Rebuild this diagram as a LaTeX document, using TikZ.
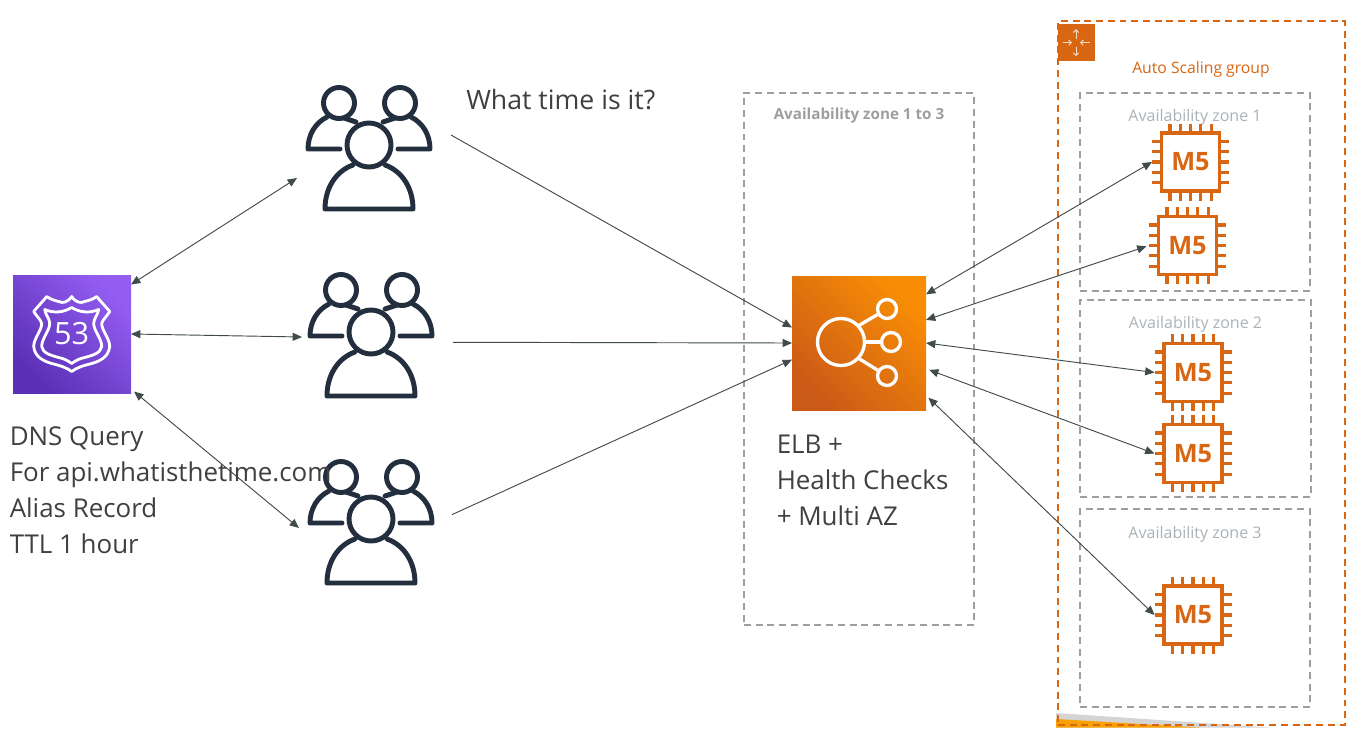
\documentclass[tikz,border=0pt]{standalone}
\usepackage{fontspec}
\setmainfont{Open Sans}
\usetikzlibrary{arrows.meta}
\definecolor{awsorange}{HTML}{D86613}
\definecolor{navy}{HTML}{232F3E}
\definecolor{zonegray}{HTML}{9E9E9E}
\definecolor{zonetext}{HTML}{AAB2B8}
\definecolor{arrowgray}{HTML}{414B4B}
\definecolor{bodytext}{HTML}{404040}
\definecolor{rlow}{HTML}{5A30B5}
\definecolor{rhigh}{HTML}{945DF2}
\definecolor{elow}{HTML}{CC5A17}
\definecolor{ehigh}{HTML}{F88E05}
\definecolor{wedgegray}{HTML}{D4D4D4}
\definecolor{wedgeorange}{HTML}{F8A100}
\definecolor{iconarrow}{HTML}{F8DCC6}
\tikzset{
  x=0.75pt,y=-0.75pt,
  pxbox/.style 2 args={minimum width=#1*0.75pt,minimum height=#2*0.75pt,inner sep=0pt,outer sep=0pt},
  zonebox/.style={draw=zonegray,line width=1.3pt,dash pattern=on 5.2pt off 3.6pt},
  asgbox/.style={draw=awsorange,line width=1.5pt,dash pattern=on 5.2pt off 3.6pt},
  zonelabel/.style={text=zonetext,inner sep=0pt,font=\fontsize{12}{14}\selectfont},
  link/.style={draw=arrowgray,line width=0.7pt},
  onearrow/.style={link,-{Triangle[length=7pt,width=6pt]}},
  twoarrow/.style={link,{Triangle[length=7pt,width=6pt]}-{Triangle[length=7pt,width=6pt]}},
  bodylabel/.style={text=bodytext,align=left,inner sep=0pt,font=\fontsize{19.45}{27}\selectfont},
  peopleline/.style={draw=navy,line width=3.7pt,line cap=round,line join=round},
  chipline/.style={draw=awsorange,line width=2.3pt},
  whiteline/.style={draw=white,line width=2.5pt},
  shieldline/.style={draw=white,line width=2.1pt,line join=round},
  pics/people/.style={code={
    \draw[peopleline] (-44,59) -- (44,59) (-44,59) .. controls (-44,38) and (-33,21) .. (-16,15)
       (44,59) .. controls (44,38) and (33,21) .. (16,15);
    \draw[peopleline] (0,-5) circle[radius=22];
    \draw[peopleline] (-30,-47) circle[radius=15.5];
    \draw[peopleline] (31,-47) circle[radius=15.5];
    \draw[peopleline] (-29,-1) -- (-61,-1) .. controls (-61,-15) and (-54,-27) .. (-42,-33) (-25,-32) -- (-13,-28);
    \draw[peopleline] (29,-1) -- (61,-1) .. controls (61,-15) and (54,-27) .. (42,-33) (26,-32) -- (14,-28);
  }},
  pics/chip/.style={code={
    \draw[chipline] (-29,-29) rectangle (29,29);
    \foreach \d in {-20.6,-10.3,0,10.3,20.6}{
      \draw[awsorange,line width=2.4pt] (\d,-29) -- (\d,-38.5) (\d,29) -- (\d,38.5) (-29,\d) -- (-38.5,\d) (29,\d) -- (38.5,\d);
    }
  }}
}
\newcommand{\chipat}[3]{%
  \pic at (#2,#3) {chip};
  \node[pxbox={77}{77},text=awsorange,font=\fontsize{19}{21}\bfseries\selectfont] (#1) at (#2,#3) {M5};
}
\begin{document}
\begin{tikzpicture}
\useasboundingbox (0,0) rectangle (1366,742);
% stray wedges at the foot of the group
\fill[wedgegray] (1056,713) -- (1270,727.5) -- (1056,727.5) -- cycle;
\fill[wedgeorange] (1056,719) -- (1200,727.5) -- (1056,727.5) -- cycle;

% group and zones
\node[pxbox={286.5}{704},asgbox] (asg) at (1201.25,373) {};
\node[pxbox={37}{37.5},fill=awsorange] (asgicon) at (1076,42.7) {};
\begin{scope}[draw=iconarrow,line width=0.7pt,-{Straight Barb[length=2pt,width=4pt]}]
  \draw (asgicon.center) ++(0,-4) -- ++(0,-9.5);
  \draw (asgicon.center) ++(0,4) -- ++(0,9.5);
  \draw (asgicon.center) ++(-13.5,0) -- ++(9.5,0);
  \draw (asgicon.center) ++(13.5,0) -- ++(-9.5,0);
\end{scope}
\node[text=awsorange,inner sep=0pt,font=\fontsize{11.8}{14}\selectfont] (asglabel) at (1201,69) {Auto Scaling group};

\node[pxbox={230}{532},zonebox] (azall) at (859,359) {};
\node[pxbox={230}{198},zonebox] (az1) at (1195,192) {};
\node[pxbox={231}{197},zonebox] (az2) at (1195.5,398.5) {};
\node[pxbox={230}{198},zonebox] (az3) at (1195,608) {};
\node[zonelabel,text=zonegray,font=\fontsize{11.4}{14}\bfseries\selectfont] (azalllabel) at (859,116) {Availability zone 1 to 3};
\node[zonelabel] (az1label) at (1195,117) {Availability zone 1};
\node[zonelabel] (az2label) at (1195.5,324) {Availability zone 2};
\node[zonelabel] (az3label) at (1195,534) {Availability zone 3};

% Route 53
\node[pxbox={118}{118},bottom color=rlow,top color=rhigh,shading angle=-45] (r53) at (72,334) {};
\begin{scope}[shift={(71.7,333.5)}]
  \draw[shieldline] (0,-37) .. controls (-4,-31) and (-9,-30) .. (-13,-32)
     .. controls (-17,-33) and (-21,-34) .. (-25,-37)
     .. controls (-29,-32) and (-33,-28) .. (-38,-22)
     .. controls (-35,-17) and (-31,-14) .. (-30,-10)
     .. controls (-30,-3) and (-38,5) .. (-38,13)
     .. controls (-37,24) and (-27,28) .. (-20,30)
     .. controls (-12,32) and (-5,34) .. (0,38)
     .. controls (5,34) and (12,32) .. (20,30)
     .. controls (27,28) and (37,24) .. (38,13)
     .. controls (38,5) and (30,-3) .. (30,-10)
     .. controls (31,-14) and (35,-17) .. (38,-22)
     .. controls (33,-28) and (29,-32) .. (25,-37)
     .. controls (21,-34) and (17,-33) .. (13,-32)
     .. controls (9,-30) and (4,-31) .. (0,-37) -- cycle;
  \draw[shieldline] (-27,-24) .. controls (-18,-20) and (-8,-21) .. (0,-26)
     .. controls (8,-21) and (18,-20) .. (27,-24)
     .. controls (26,-18) and (22,-15) .. (22,-10)
     .. controls (22,-3) and (30,5) .. (30,13)
     .. controls (29,20) and (20,22) .. (13,24)
     .. controls (8,25) and (4,27) .. (0,30)
     .. controls (-4,27) and (-8,25) .. (-13,24)
     .. controls (-20,22) and (-29,20) .. (-30,13)
     .. controls (-30,5) and (-22,-3) .. (-22,-10)
     .. controls (-22,-15) and (-26,-18) .. (-27,-24) -- cycle;
\end{scope}
\node[text=white,inner sep=0pt,font=\fontsize{23}{25}\selectfont] (r53num) at (71.7,334) {53};

% ELB
\node[pxbox={134}{134},bottom color=elow,top color=ehigh,shading angle=-45] (elb) at (859,343) {};
\draw[whiteline] (841,342) circle[radius=23.5];
\node[circle,draw=white,line width=2.5pt,minimum size=19*0.75pt,inner sep=0pt] (elbt) at (887,309) {};
\node[circle,draw=white,line width=2.5pt,minimum size=19*0.75pt,inner sep=0pt] (elbm) at (891,342) {};
\node[circle,draw=white,line width=2.5pt,minimum size=19*0.75pt,inner sep=0pt] (elbb) at (887,376) {};
\draw[whiteline] (858,326) -- (elbt);
\draw[whiteline] (865,342) -- (elbm);
\draw[whiteline] (858,358) -- (elbb);

% people
\pic at (369,150) {people};
\pic at (371,337) {people};
\pic at (371,524) {people};
\node[pxbox={154}{125}] (p1) at (374,150) {};
\node[pxbox={151}{125}] (p2) at (377.5,337) {};
\node[pxbox={153}{125}] (p3) at (375.5,524) {};

% instances
\chipat{c1}{1190.5}{162}
\chipat{c2}{1187.5}{245.5}
\chipat{c3}{1193}{372.5}
\chipat{c4}{1193}{453.5}
\chipat{c5}{1193}{615}

% connectors
\draw[twoarrow] (r53.40) -- (p1.200);
\draw[twoarrow] (r53.0) -- (p2.180);
\draw[twoarrow,shorten <=3pt] (r53.-43) -- (p3.183);
\draw[onearrow] (p1.11) -- (elb.167.4);
\draw[onearrow] (p2.-4) -- (elb.180);
\draw[onearrow] (p3.7.5) -- (elb.194.3);
\draw[twoarrow] (elb.36.7) -- (c1.west);
\draw[twoarrow,shorten >=2pt] (elb.19.7) -- (c2.west);
\draw[twoarrow] (elb.0) -- (c3.west);
\draw[twoarrow,shorten <=2.5pt] (elb.-21) -- (c4.west);
\draw[twoarrow,shorten <=2.5pt] (elb.-38) -- (c5.west);

% texts
\node[bodylabel,font=\fontsize{20}{27}\selectfont,anchor=west] (question) at (466,100) {What time is it?};
\node[bodylabel,anchor=north west] (dnstext) at (9.5,426) {DNS Query\\For api.whatisthetime.com\\Alias Record\\TTL 1 hour};
\node[bodylabel,anchor=north west] (elbtext) at (776.5,434.5) {ELB +\\Health Checks\\+ Multi AZ};
\end{tikzpicture}
\end{document}
